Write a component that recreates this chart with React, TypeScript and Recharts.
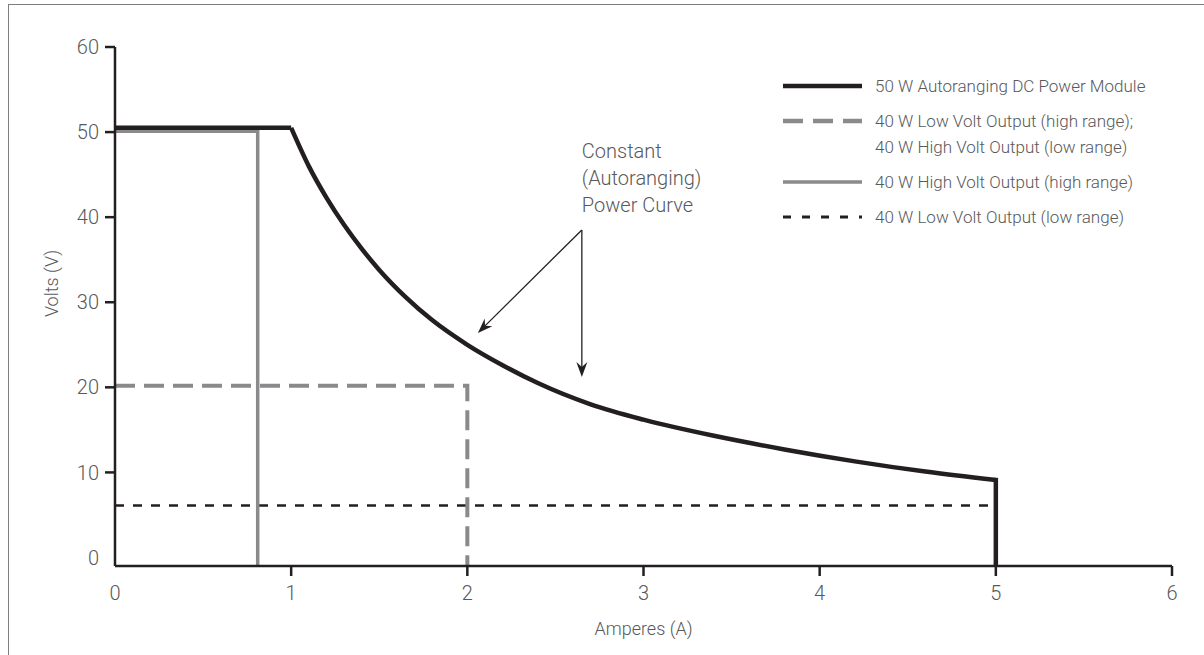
import { LineChart, Line, XAxis, YAxis, ReferenceLine } from "recharts";

const amps = [0, 1, 2, 3, 4, 5, 6];
const volts = [0, 10, 20, 30, 40, 50, 60];
const floorV = -1; // x axis sits just below 0 V

// 50 W autoranging module: voltage limit, constant power curve, current limit
const moduleFlatA = [0, 1.0];
const moduleFlatV = [50.5, 50.5];
const moduleCurveA = [1.0, 1.1, 1.2, 1.3, 1.4, 1.5, 1.65, 1.8, 2.0, 2.2, 2.4, 2.7, 3.0, 3.4, 3.8, 4.2, 4.6, 5.0];
const moduleCurveV = [50.5, 46.0, 42.3, 39.1, 36.3, 33.8, 30.6, 27.9, 25.0, 22.6, 20.5, 18.0, 16.2, 14.3, 12.7, 11.3, 10.1, 9.1];
const moduleDropA = [5.0, 5.0];
const moduleDropV = [9.1, floorV];

// 40 W outputs (rectangular limits)
const lowVoltHighA = [0, 2.0, 2.0];
const lowVoltHighV = [20.2, 20.2, floorV];
const highVoltHighA = [0, 0.81, 0.81];
const highVoltHighV = [50.1, 50.1, floorV];
const lowVoltLowA = [0, 5.0];
const lowVoltLowV = [6.1, 6.1];

const captionLines = ["Constant", "(Autoranging)", "Power Curve"];

const ink = "#231f20";
const grey = "#8a8a8d";
const textGrey = "#58595b";
const font = "Roboto, 'Noto Sans', sans-serif";

const series = [
  { key: "module", label: ["50 W Autoranging DC Power Module"], color: ink, width: 4.5, dash: undefined },
  {
    key: "lowVoltHigh",
    label: ["40 W Low Volt Output (high range);", "40 W High Volt Output (low range)"],
    color: grey,
    width: 4.5,
    dash: "20 10",
  },
  { key: "highVoltHigh", label: ["40 W High Volt Output (high range)"], color: grey, width: 3.5, dash: undefined },
  { key: "lowVoltLow", label: ["40 W Low Volt Output (low range)"], color: ink, width: 3, dash: "8 11" },
];

const toPoints = (a: number[], v: number[]) => a.map((x, i) => ({ a: x, v: v[i] }));

const YTick = ({ x, y, payload }: any) => (
  <g>
    {payload.value !== 0 && <line x1={x + 6} x2={x + 16} y1={y} y2={y} stroke={ink} strokeWidth={2.5} />}
    <text x={x} y={y} dy="0.355em" textAnchor="end" fontSize={20} fontFamily={font} fontWeight={300} fill={textGrey}>
      {payload.value}
    </text>
  </g>
);

const XTick = ({ x, y, payload }: any) => (
  <g>
    {payload.value !== 0 && <line x1={x} x2={x} y1={y - 20} y2={y - 10} stroke={ink} strokeWidth={2.5} />}
    <text x={x} y={y} dy="0.71em" textAnchor="middle" fontSize={20} fontFamily={font} fontWeight={300} fill={textGrey}>
      {payload.value}
    </text>
  </g>
);

const arrow = (caption: boolean) => (props: any) => {
  const { x1, y1, x2, y2 } = props;
  const ang = Math.atan2(y2 - y1, x2 - x1);
  const c = Math.cos(ang);
  const s = Math.sin(ang);
  const len = 15;
  const half = 5.5;
  const notch = 10;
  const bx = x2 - len * c;
  const by = y2 - len * s;
  const nx = x2 - notch * c;
  const ny = y2 - notch * s;
  const pts = [
    [x2, y2],
    [bx - half * s, by + half * c],
    [nx, ny],
    [bx + half * s, by - half * c],
  ]
    .map((p) => p.join(","))
    .join(" ");
  return (
    <g>
      <line x1={x1} y1={y1} x2={nx} y2={ny} stroke={ink} strokeWidth={1.3} />
      <polygon points={pts} fill={ink} />
      {caption &&
        captionLines.map((t, i) => (
          <text key={t} x={x1} y={y1 - 72 + i * 27} fontSize={20} fontFamily={font} fontWeight={300} fill={textGrey}>
            {t}
          </text>
        ))}
    </g>
  );
};

export default function App() {
  return (
    <div style={{ position: "fixed", left: 0, top: 0, width: 1204, height: 655, background: "#fff", overflow: "hidden" }}>
      <div
        style={{
          position: "absolute",
          left: 8,
          top: 4,
          width: 1210,
          height: 670,
          borderTop: "1.5px solid #7d7d7d",
          borderLeft: "1.5px solid #7d7d7d",
        }}
      />
      <LineChart width={1204} height={655} margin={{ top: 47, right: 32, bottom: 19, left: 35 }}>
        <XAxis
          dataKey="a"
          type="number"
          domain={[0, 6]}
          ticks={amps}
          height={70}
          tickSize={10}
          tickMargin={10}
          tickLine={false}
          tick={XTick}
          axisLine={{ stroke: ink, strokeWidth: 2.5 }}
          allowDuplicatedCategory={false}
          label={{ value: "Amperes (A)", position: "insideBottom", offset: 1, fontSize: 18, fontFamily: font, fontWeight: 300, fill: textGrey }}
        />
        <YAxis
          dataKey="v"
          type="number"
          domain={[floorV, 60]}
          ticks={volts}
          width={80}
          tickSize={10}
          tickMargin={6}
          tickLine={false}
          tick={YTick}
          axisLine={{ stroke: ink, strokeWidth: 2.5 }}
          allowDataOverflow
          label={{
            value: "Volts (V)",
            angle: -90,
            position: "insideLeft",
            offset: 17,
            dy: -23,
            style: { textAnchor: "middle" },
            fontSize: 18,
            fontFamily: font,
            fontWeight: 300,
            fill: textGrey,
          }}
        />
        <Line data={toPoints(lowVoltLowA, lowVoltLowV)} dataKey="v" type="linear" stroke={ink} strokeWidth={2.5} strokeDasharray="9 9" dot={false} isAnimationActive={false} />
        <Line data={toPoints(lowVoltHighA, lowVoltHighV)} dataKey="v" type="linear" stroke={grey} strokeWidth={4} strokeDasharray="20 9" dot={false} isAnimationActive={false} />
        <Line data={toPoints(highVoltHighA, highVoltHighV)} dataKey="v" type="linear" stroke={grey} strokeWidth={3.5} dot={false} isAnimationActive={false} />
        <Line data={toPoints(moduleFlatA, moduleFlatV)} dataKey="v" type="linear" stroke={ink} strokeWidth={4.5} dot={false} isAnimationActive={false} />
        <Line data={toPoints(moduleCurveA, moduleCurveV)} dataKey="v" type="monotone" stroke={ink} strokeWidth={4.5} dot={false} isAnimationActive={false} />
        <Line data={toPoints(moduleDropA, moduleDropV)} dataKey="v" type="linear" stroke={ink} strokeWidth={4.5} strokeLinecap="square" dot={false} isAnimationActive={false} />
        <ReferenceLine segment={[{ x: 2.65, y: 38.5 }, { x: 2.06, y: 26.4 }]} shape={arrow(true)} />
        <ReferenceLine segment={[{ x: 2.65, y: 38.5 }, { x: 2.65, y: 21.2 }]} shape={arrow(false)} />
      </LineChart>
      <div style={{ position: "absolute", left: 783, top: 73, fontFamily: font, fontWeight: 300, fontSize: 17, color: textGrey }}>
        {series.map((s) => (
          <div key={s.key} style={{ display: "flex", alignItems: "flex-start", marginBottom: 9 }}>
            <svg width={79} height={26} style={{ flex: "none" }}>
              <line x1={0} x2={79} y1={13} y2={13} stroke={s.color} strokeWidth={s.width} strokeDasharray={s.dash} />
            </svg>
            <div style={{ marginLeft: 13, lineHeight: "26px", whiteSpace: "nowrap" }}>
              {s.label.map((l) => (
                <div key={l}>{l}</div>
              ))}
            </div>
          </div>
        ))}
      </div>
    </div>
  );
}
